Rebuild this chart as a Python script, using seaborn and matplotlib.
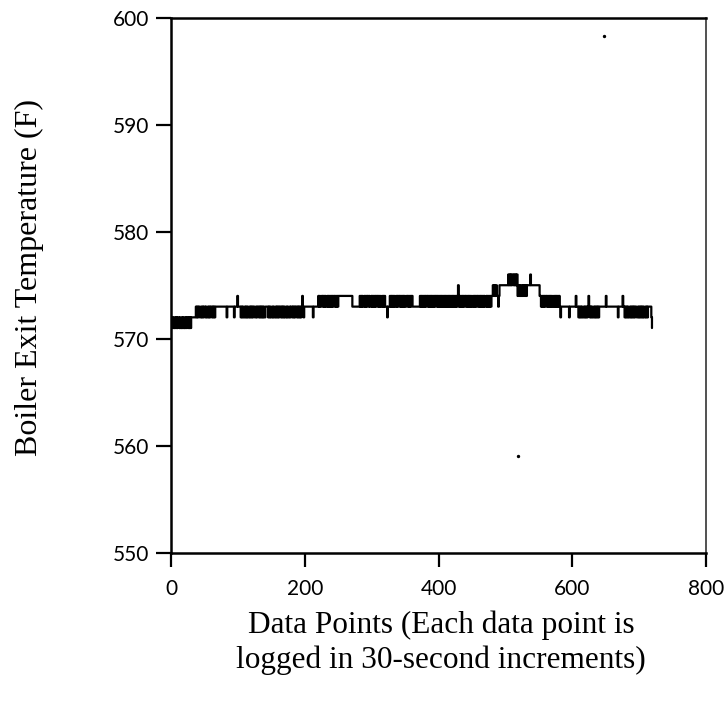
import numpy as np
import pandas as pd
import seaborn as sns
import matplotlib.pyplot as plt

# Boiler exit temperature, one digit per logged point = temperature - 570 (F)
# 12 rows of 60 points each (points 0..719)
temp_rows = [
    "1212112121" "2212112121" "1212212121" "222222" "2323233223" "2323323223" "2323",
    "32323233" "333333333333333" "2" "3333333333" "2" "3333" "4" "3333" "2323223232322323",
    "2323322323" "3232323232" "2333323232" "2323223232" "3233232323" "2232322323",
    "32323233" "23232323" "4" "32" "3333333333333" "2" "3333333" "4343344343" "4334343434",
    "3434434343" "444444444444444444444" "33333333333" "434343343434" "434334",
    "3434343443" "4343343434" "333" "2" "333" "4343434334" "3434434343" "4343344343" "434",
    "43" "3333333333" "4343434343" "4434343434" "3434434343" "4343434343" "43434343",
    "434343434" "5" "3434343434" "4343434343" "3434343443" "4343434343" "3434343434",
    "4545445443" "45555555555555" "65656566565656" "45454454545454" "55555" "6" "55",
    "55555555555" "44" "3434343443" "4343434334" "34343434" "3" "2" "333333333333" "2" "3333",
    "33333" "4" "333" "232323223232323" "4" "3232322323232323" "333333333" "4" "333333333",
    "33333333" "2" "333333" "4" "33" "2323232232" "3232323322" "3232323232" "232323" "3333" "2" "1",
]
temp_offset = 570

# stray specks in the plotting area
speck_x = [647, 518]
speck_y = [598.3, 559.0]

x_ticks = [0, 200, 400, 600, 800]
y_ticks = [550, 560, 570, 580, 590, 600]

temps = [temp_offset + int(c) for row in temp_rows for c in row]
df = pd.DataFrame({"point": np.arange(len(temps)), "temp": temps})

sns.set_style("ticks")
plt.rcParams["font.family"] = ["Liberation Serif", "DejaVu Serif"]

fig = plt.figure(figsize=(7.25, 7.06), dpi=100)
ax = fig.add_axes([0.236, 0.217, 0.738, 0.758])

sns.lineplot(data=df, x="point", y="temp", ax=ax, color="black",
             linewidth=1.6, drawstyle="steps-post")
ax.scatter(speck_x, speck_y, s=2, color="black")

ax.set_xlim(0, 800)
ax.set_ylim(550, 600)
ax.set_xticks(x_ticks)
ax.set_yticks(y_ticks)
ax.tick_params(axis="y", direction="out", length=11, width=1.6, pad=5,
               labelsize=15, colors="black")
ax.tick_params(axis="x", direction="out", length=10, width=1.6, pad=9,
               labelsize=15, colors="black")
for lab in ax.get_xticklabels() + ax.get_yticklabels():
    lab.set_family("Lato")
for side in ["left", "bottom", "top"]:
    ax.spines[side].set_linewidth(1.8)
    ax.spines[side].set_color("black")
ax.spines["right"].set_linewidth(1.2)
ax.spines["right"].set_color("#333333")

ax.set_xlabel("Data Points (Each data point is\nlogged in 30-second increments)",
              fontsize=22.5, linespacing=1.25, color="black")
ax.xaxis.set_label_coords(0.505, -0.108)
ax.set_ylabel("Boiler Exit Temperature (F)", fontsize=23, color="black")
ax.yaxis.set_label_coords(-0.237, 0.514)

fig.savefig("out.png", dpi=100)
